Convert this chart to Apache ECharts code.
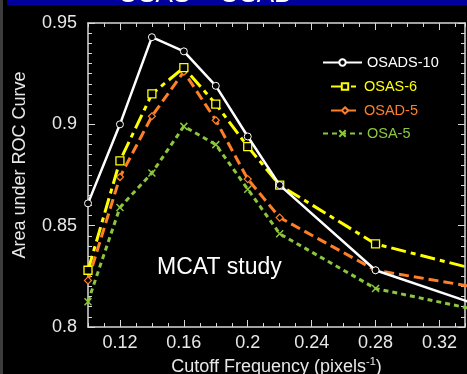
<!DOCTYPE html>
<html>
<head>
<meta charset="utf-8">
<script src="https://cdn.jsdelivr.net/npm/echarts@6/dist/echarts.min.js"></script>
<style>
html,body{margin:0;padding:0;background:#000;}
#c{width:467px;height:374px;}
</style>
</head>
<body>
<div id="c"></div>
<script>
var cutoff = [0.10, 0.12, 0.14, 0.16, 0.18, 0.20, 0.22, 0.28, 0.34];
var osads10 = [0.861, 0.900, 0.943, 0.936, 0.919, 0.894, 0.870, 0.828, 0.812];
var osas6   = [0.828, 0.882, 0.915, 0.928, 0.910, 0.889, 0.870, 0.841, 0.829];
var osad5   = [0.823, 0.874, 0.904, 0.926, 0.902, 0.873, 0.854, 0.828, 0.820];
var osa5    = [0.8125, 0.859, 0.876, 0.899, 0.890, 0.868, 0.846, 0.819, 0.809];
var seriesNames = ['OSADS-10', 'OSAS-6', 'OSAD-5', 'OSA-5'];
var xTickLabels = [0.12, 0.16, 0.20, 0.24, 0.28, 0.32];

var FONT = 'Liberation Sans, Arial, sans-serif';
var AX = '#d8d8d8';
var C = {w: '#ffffff', y: '#ffff00', o: '#ff7f27', g: '#8cc63f'};

function pairs(vals) { return cutoff.map(function (x, i) { return [x, vals[i]]; }); }

var xMin = 0.1, xMax = 0.336;
function xAx(pos, major, labels) {
  var a = {
    type: 'value', position: pos, min: xMin, max: xMax, gridIndex: 0,
    axisLine: {show: !major, lineStyle: {color: AX, width: 1.5}},
    splitLine: {show: false},
    axisTick: {show: true, inside: true, length: major ? 7 : 4, lineStyle: {color: AX, width: 1}},
    axisLabel: {show: false}
  };
  if (major) { a.axisTick.customValues = xTickLabels; }
  else { a.interval = 0.01; }
  if (labels) {
    a.axisLabel = {show: true, customValues: xTickLabels, color: '#e8e8e8', fontSize: 18, fontFamily: FONT, margin: 7,
      formatter: function (v) { return String(+(+v).toFixed(2)); }};
    a.name = '{a|Cutoff Frequency (pixels}{s|-1}{a|)}';
    a.nameLocation = 'middle';
    a.nameGap = 27;
    a.nameTextStyle = {rich: {
      a: {color: '#e8e8e8', fontSize: 18, fontFamily: FONT, lineHeight: 20},
      s: {color: '#e8e8e8', fontSize: 11, fontFamily: FONT, verticalAlign: 'top', lineHeight: 11}
    }};
  }
  return a;
}
function yAx(pos, labels) {
  var a = {
    type: 'value', position: pos, min: 0.8, max: 0.95, interval: 0.05,
    axisLine: {show: true, lineStyle: {color: AX, width: 1.5}},
    splitLine: {show: false},
    axisTick: {show: true, inside: true, length: 7, lineStyle: {color: AX, width: 1}},
    minorTick: {show: true, splitNumber: 10, length: 4, lineStyle: {color: AX, width: 1}},
    axisLabel: {show: false}
  };
  if (labels) {
    a.axisLabel = {show: true, color: '#e8e8e8', fontSize: 18, fontFamily: FONT, margin: 11};
  }
  return a;
}

function legendFor(name, left, top, w, color) {
  return {
    data: [name], left: left, top: top, itemWidth: w, itemHeight: 8, itemGap: 0, padding: 0,
    textStyle: {color: color, fontSize: 14.5, fontFamily: FONT},
    inactiveColor: '#555'
  };
}

var chart = echarts.init(document.getElementById('c'), null, {renderer: 'canvas'});
chart.setOption({
  backgroundColor: '#000',
  animation: false,
  grid: {left: 88, top: 23, width: 377, height: 304, containLabel: false, outerBoundsMode: 'none'},
  xAxis: [xAx('bottom', false, true), xAx('bottom', true, false), xAx('top', false, false), xAx('top', true, false)],
  yAxis: [yAx('left', true), yAx('right', false)],
  legend: [
    legendFor(seriesNames[0], 322, 55, 39, C.w),
    legendFor(seriesNames[1], 330, 79, 28, C.y),
    legendFor(seriesNames[2], 330, 103, 28, C.o),
    legendFor(seriesNames[3], 322, 126, 39, C.g)
  ],
  graphic: [
    {type: 'rect', left: 7, top: 0, shape: {width: 460, height: 5}, style: {fill: '#00009c'}, silent: true},
    {type: 'rect', left: 0, top: 0, shape: {width: 3, height: 374}, style: {fill: '#3c3c3c'}, silent: true},
    {type: 'text', x: 118, y: -5, style: {text: 'OSAS \u2013 OSAD', fill: '#fff', fontSize: 26, fontFamily: FONT, verticalAlign: 'middle', align: 'left'}, silent: true, z: 10},
    {type: 'text', x: 157, y: 268, style: {text: 'MCAT study', fill: '#fff', fontSize: 23, fontFamily: FONT, verticalAlign: 'middle', align: 'left'}, silent: true, z: 10},
    {type: 'text', x: 20, y: 165, rotation: Math.PI / 2, style: {text: 'Area under ROC Curve', fill: '#e8e8e8', fontSize: 18, fontFamily: FONT, verticalAlign: 'middle', align: 'center'}, silent: true, z: 10}
  ],
  series: [
    {name: seriesNames[0], type: 'line', data: pairs(osads10), xAxisIndex: 0, yAxisIndex: 0, clip: true,
      symbol: 'circle', symbolSize: 7, showAllSymbol: true,
      lineStyle: {color: C.w, width: 2.5, type: 'solid'},
      itemStyle: {color: '#000', borderColor: C.w, borderWidth: 1}, z: 5},
    {name: seriesNames[1], type: 'line', data: pairs(osas6), xAxisIndex: 0, yAxisIndex: 0, clip: true,
      symbol: 'rect', symbolSize: 8, showAllSymbol: true,
      lineStyle: {color: C.y, width: 3, type: [15, 5, 5, 5]},
      itemStyle: {color: '#000', borderColor: C.y, borderWidth: 1.3}, z: 4},
    {name: seriesNames[2], type: 'line', data: pairs(osad5), xAxisIndex: 0, yAxisIndex: 0, clip: true,
      symbol: 'diamond', symbolSize: 7, showAllSymbol: true,
      lineStyle: {color: C.o, width: 3, type: [10, 5]},
      itemStyle: {color: '#000', borderColor: C.o, borderWidth: 1.2}, z: 3},
    {name: seriesNames[3], type: 'line', data: pairs(osa5), xAxisIndex: 0, yAxisIndex: 0, clip: true,
      symbol: 'path://M0,0L10,10M10,0L0,10', symbolSize: 7, showAllSymbol: true,
      lineStyle: {color: C.g, width: 3, type: [5, 4]},
      itemStyle: {color: 'rgba(0,0,0,0)', borderColor: C.g, borderWidth: 1.5}, z: 2}
  ]
});
</script>
</body>
</html>
